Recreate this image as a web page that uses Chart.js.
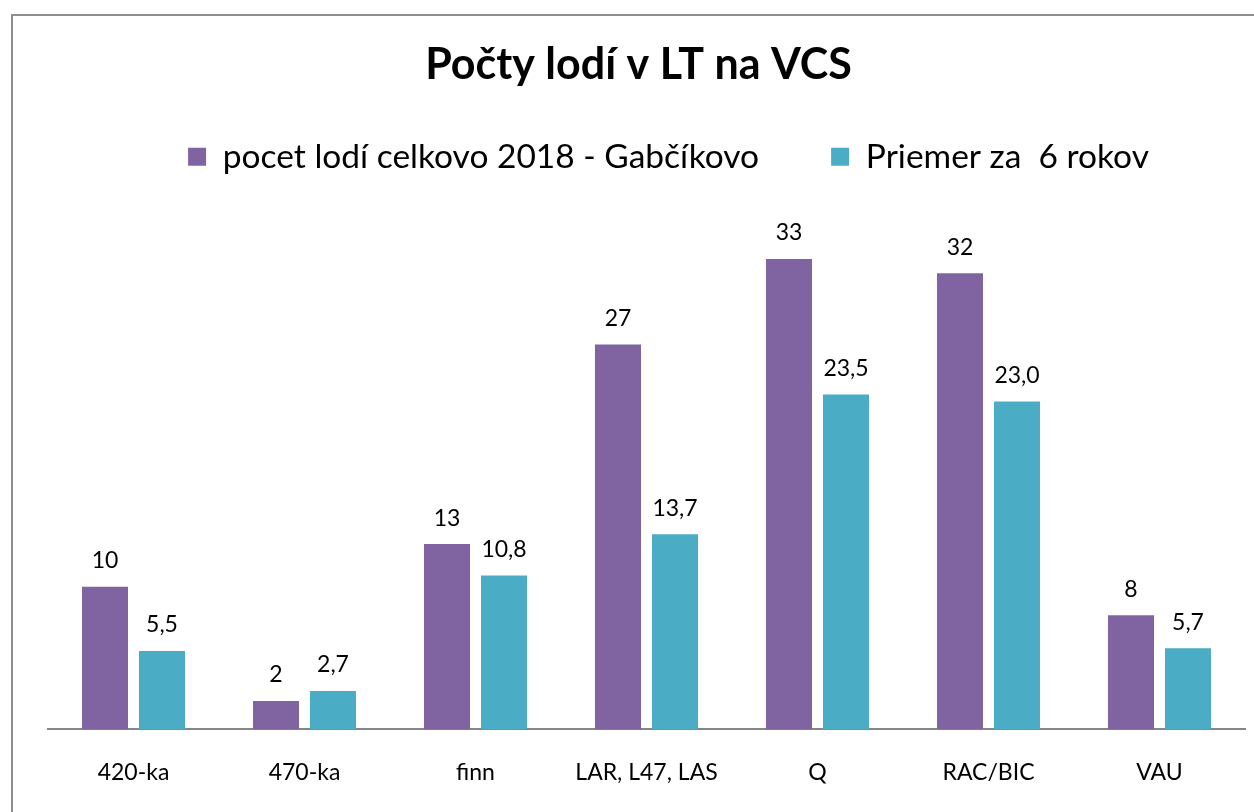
<!DOCTYPE html>
<html>
<head>
<meta charset="utf-8">
<script src="https://cdn.jsdelivr.net/npm/chart.js@4/dist/chart.umd.min.js"></script>
<style>
  html, body { margin: 0; padding: 0; background: #ffffff; overflow: hidden; }
  #frame { position: absolute; left: 11px; top: 14px; width: 1400px; height: 1000px; border: 2px solid #8e8e8e; box-sizing: border-box; }
  #c { position: absolute; left: 0; top: 0; }
</style>
</head>
<body>
<div id="frame"></div>
<canvas id="c" width="1254" height="812"></canvas>
<script>
const titleText = 'Počty lodí v LT na VCS';
const categories = ['420-ka', '470-ka', 'finn', 'LAR, L47, LAS', 'Q', 'RAC/BIC', 'VAU'];
const seriesNames = ['pocet lodí celkovo 2018 - Gabčíkovo', 'Priemer za  6 rokov'];
const counts2018 = [10, 2, 13, 27, 33, 32, 8];
const average6y = [5.5, 2.7, 10.8, 13.7, 23.5, 23.0, 5.7];

const FONT = 'Lato, "Open Sans", sans-serif';
const decimals = [0, 1];

const valueLabels = {
  id: 'valueLabels',
  afterDatasetsDraw(chart) {
    const ctx = chart.ctx;
    ctx.save();
    ctx.font = '23px ' + FONT;
    ctx.fillStyle = '#000000';
    ctx.textAlign = 'center';
    ctx.textBaseline = 'middle';
    chart.data.datasets.forEach((ds, di) => {
      const meta = chart.getDatasetMeta(di);
      meta.data.forEach((bar, i) => {
        const txt = Number(ds.data[i]).toFixed(decimals[di]).replace('.', ',');
        ctx.fillText(txt, bar.x, bar.y - 26);
      });
    });
    ctx.restore();
  }
};

// nudge the title and legend rows horizontally, as in the original layout
const headerShift = {
  id: 'headerShift',
  afterLayout(chart) {
    if (chart.legend) {
      chart.legend.left += 22;
      chart.legend.right += 22;
    }
    if (chart.titleBlock) {
      chart.titleBlock.left -= 8;
      chart.titleBlock.right -= 8;
    }
  }
};

new Chart(document.getElementById('c'), {
  type: 'bar',
  data: {
    labels: categories,
    datasets: [
      { label: seriesNames[0], data: counts2018, backgroundColor: '#8064A2', borderWidth: 0 },
      { label: seriesNames[1], data: average6y, backgroundColor: '#4BACC6', borderWidth: 0 }
    ]
  },
  options: {
    responsive: false,
    animation: false,
    devicePixelRatio: 1,
    layout: { padding: { left: 48, right: 9, top: 0, bottom: -3 } },
    datasets: { bar: { categoryPercentage: 0.667, barPercentage: 0.807 } },
    plugins: {
      title: {
        display: true,
        text: titleText,
        color: '#000000',
        font: { family: FONT, size: 43, weight: 'bold', lineHeight: '2px' },
        padding: { top: 64, bottom: 2 }
      },
      legend: {
        display: true,
        position: 'top',
        align: 'center',
        labels: {
          color: '#000000',
          font: { family: FONT, size: 33.5 },
          boxWidth: 18,
          boxHeight: 18,
          padding: 72
        }
      },
      tooltip: { enabled: false }
    },
    scales: {
      x: {
        grid: { display: false, drawTicks: false, tickLength: 0 },
        border: { display: true, color: '#868686', width: 2 },
        ticks: { color: '#000000', font: { family: FONT, size: 23 }, padding: 29, maxRotation: 0 }
      },
      y: { display: false, min: 0, max: 38.3 }
    }
  },
  plugins: [valueLabels, headerShift]
});
</script>
</body>
</html>
